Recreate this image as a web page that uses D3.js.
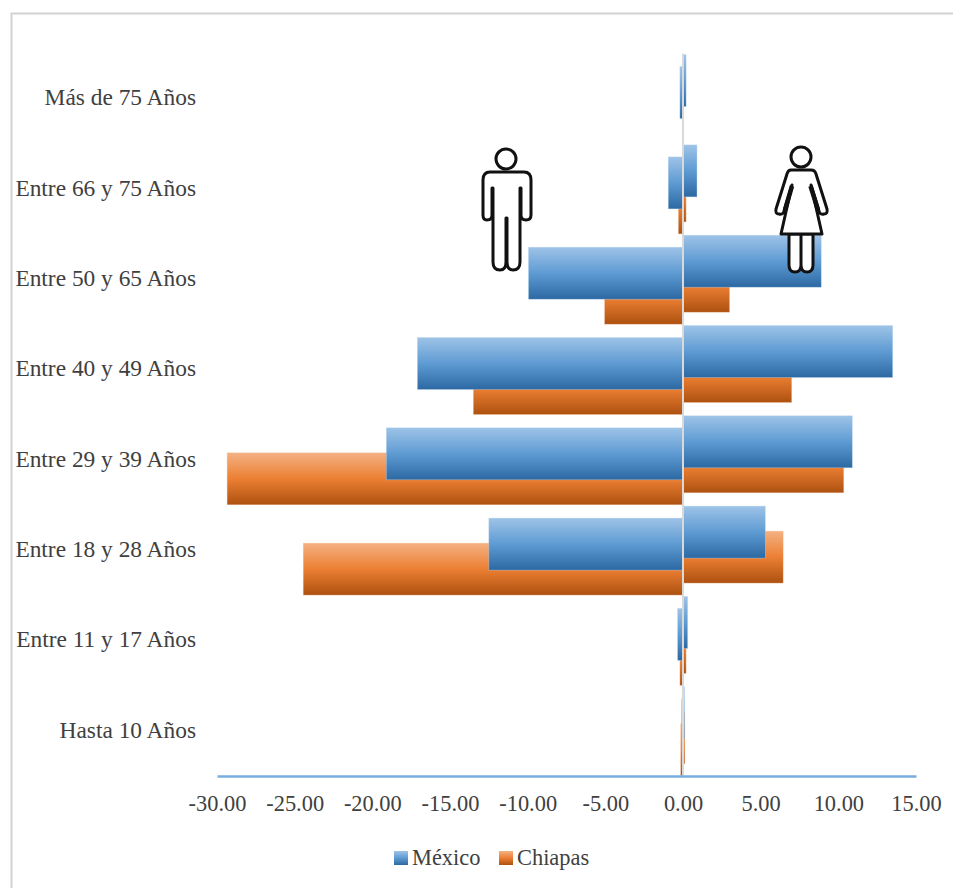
<!DOCTYPE html>
<html>
<head>
<meta charset="utf-8">
<script src="https://cdnjs.cloudflare.com/ajax/libs/d3/7.8.5/d3.min.js"></script>
<style>
  html, body { margin: 0; padding: 0; background: #fff; }
  svg { display: block; }
  text { font-family: "Liberation Serif", serif; fill: #404040; }
</style>
</head>
<body>
<div id="chart"></div>
<script>
// Chart values, top row of the picture first
const categories = ["Más de 75 Años", "Entre 66 y 75 Años", "Entre 50 y 65 Años", "Entre 40 y 49 Años",
  "Entre 29 y 39 Años", "Entre 18 y 28 Años", "Entre 11 y 17 Años", "Hasta 10 Años"];
const menMexico = [-0.2, -0.95, -9.95, -17.1, -19.1, -12.5, -0.35, -0.1];
const menChiapas = [0, -0.3, -5.05, -13.5, -29.35, -24.45, -0.2, -0.15];
const womenMexico = [0.2, 0.9, 8.9, 13.5, 10.9, 5.3, 0.3, 0.1];
const womenChiapas = [0, 0.2, 3.0, 7.0, 10.35, 6.45, 0.2, 0.12];
const xTicks = [-30, -25, -20, -15, -10, -5, 0, 5, 10, 15];
const legendLabels = ["México", "Chiapas"];

const width = 953;
const height = 888;
const plot = { left: 217, right: 916, top: 53.6, bottom: 776 };

const barHeight = 52;
const chiapasOffset = 25; // Chiapas bar sits half behind the Mexico bar
const menShift = 13; // the two sides are two charts stuck together, not aligned
const womenShift = 1;

const x = d3.scaleLinear().domain([-30, 15]).range([plot.left, plot.right]);
const y = d3.scaleBand().domain(categories).range([plot.top, plot.bottom]);

const svg = d3.select("#chart").append("svg").attr("width", width).attr("height", height);

// Bar gradients
const defs = svg.append("defs");
function addGradient(id, stops) {
  defs.append("linearGradient")
    .attr("id", id)
    .attr("x1", 0).attr("y1", 0).attr("x2", 0).attr("y2", 1)
    .selectAll("stop")
    .data(stops)
    .join("stop")
    .attr("offset", (d) => d[0])
    .attr("stop-color", (d) => d[1]);
}
addGradient("blueFill", [[0, "#9ec3e7"], [0.5, "#5e9bd3"], [1, "#2c69a3"]]);
addGradient("orangeFill", [[0, "#f4b183"], [0.5, "#ec7f33"], [1, "#ad5110"]]);

// Frame of the pasted picture
svg.append("path")
  .attr("d", `M11.5,${height} V13.5 H${width}`)
  .attr("fill", "none")
  .attr("stroke", "#d2d2d2")
  .attr("stroke-width", 2);

function drawBars(values, shift, offset, fill, edge) {
  svg.append("g")
    .selectAll("rect")
    .data(values)
    .join("rect")
    .attr("x", (d) => Math.min(x(d), x(0)))
    .attr("y", (d, i) => y(categories[i]) + shift + offset)
    .attr("width", (d) => Math.abs(x(d) - x(0)))
    .attr("height", barHeight)
    .attr("fill", fill)
    .attr("stroke", edge)
    .attr("stroke-opacity", 0.6)
    .attr("stroke-width", (d) => (d === 0 ? 0 : 0.6));
}

// Chiapas goes first so Mexico overlaps it
drawBars(menChiapas, menShift, chiapasOffset, "url(#orangeFill)", "#f8cbad");
drawBars(womenChiapas, womenShift, chiapasOffset, "url(#orangeFill)", "#f8cbad");
drawBars(menMexico, menShift, 0, "url(#blueFill)", "#bdd7ee");
drawBars(womenMexico, womenShift, 0, "url(#blueFill)", "#bdd7ee");

// Vertical axis line
svg.append("line")
  .attr("x1", x(0)).attr("x2", x(0))
  .attr("y1", plot.top).attr("y2", plot.bottom)
  .attr("stroke", "#d9d9d9")
  .attr("stroke-width", 2);

// Category labels
svg.append("g")
  .selectAll("text")
  .data(categories)
  .join("text")
  .attr("x", 196)
  .attr("y", (d) => y(d) + y.bandwidth() / 2 - 1.5)
  .attr("dy", "0.35em")
  .attr("text-anchor", "end")
  .attr("font-size", 23.4)
  .text((d) => d);

// Bottom axis, plain hyphen instead of the minus sign d3 puts in
const fmt = d3.format(".2f");
const xAxis = d3.axisBottom(x)
  .tickValues(xTicks)
  .tickFormat((d) => fmt(d).replace("\u2212", "-"))
  .tickSize(0)
  .tickPadding(19);
const axisG = svg.append("g").attr("transform", `translate(0,${plot.bottom})`).call(xAxis);
axisG.select(".domain").attr("stroke", "#78aede").attr("stroke-width", 2.4);
axisG.selectAll("text").attr("font-size", 22.4).attr("font-family", '"Liberation Serif", serif').attr("fill", "#404040");

// Legend
const legendX = [394, 499];
const legendFill = ["url(#blueFill)", "url(#orangeFill)"];
const legend = svg.append("g")
  .selectAll("g")
  .data(legendLabels)
  .join("g")
  .attr("transform", (d, i) => `translate(${legendX[i]},851)`);
legend.append("rect").attr("width", 14).attr("height", 14).attr("fill", (d, i) => legendFill[i]);
legend.append("text")
  .attr("x", 18)
  .attr("y", 6.5)
  .attr("dy", "0.35em")
  .attr("font-size", 22.4)
  .text((d) => d);

// Man and woman pictograms
const icons = svg.append("g").attr("fill", "#fff").attr("stroke", "#111").attr("stroke-width", 3).attr("stroke-linejoin", "round");

icons.append("circle").attr("cx", 506).attr("cy", 159).attr("r", 10);
icons.append("path").attr("d",
  "M490,172 H524 Q531,172 531,180 V215 Q531,220 526,220 Q521,220 521,215 V188 H520 V262 Q520,270 513,270 " +
  "Q507,270 507,262 V218 H506 V262 Q506,270 500,270 Q493,270 493,262 V188 H492 V215 Q492,220 487,220 Q483,220 483,215 V180 Q483,172 490,172 Z");

icons.append("circle").attr("cx", 801).attr("cy", 157).attr("r", 10);
icons.append("path").attr("d",
  "M789,234 V265 Q789,272 795,272 Q801,272 801,265 V234 V265 Q801,272 807,272 Q813,272 813,265 V234 Z");
icons.append("path").attr("d",
  "M791,170 H811 Q815,170 816,174 L827,209 Q828,214 824,214 Q820,215 819,211 L811,185 L822,234 H781 L792,185 " +
  "L784,211 Q783,215 779,214 Q775,214 776,209 L787,174 Q788,170 791,170 Z");
icons.append("path").attr("fill", "none").attr("stroke-width", 4.5).attr("d", "M792,186 L785,210 M810.5,186 L818,210");
</script>
</body>
</html>
